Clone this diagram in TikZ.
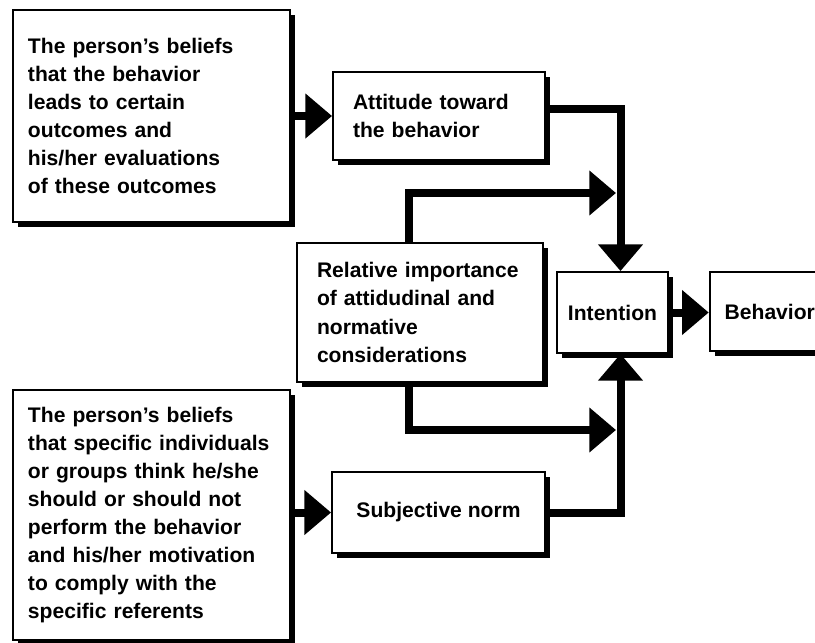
\documentclass[tikz,border=0pt]{standalone}
\usepackage{fontspec}
\setmainfont{Liberation Sans}
\usepackage{tikz}
\usetikzlibrary{arrows.meta,shadows}

\begin{document}
\begin{tikzpicture}[x=0.03cm,y=-0.03cm,
    box/.style={draw, line width=1.6pt, fill=white, align=left, inner ysep=0pt,
        font=\fontsize{18}{24}\selectfont\bfseries,
        drop shadow={shadow xshift=0.16cm, shadow yshift=-0.16cm, fill=black, opacity=1}},
    flow/.style={line width=0.24cm, -{Triangle[length=0.8cm,width=1.3cm]}}]
    \useasboundingbox (0,0) rectangle (815,642);
    % boxes
    \node[box, minimum width=8.31cm, minimum height=6.36cm, text width=7.41cm, inner xsep=0.45cm] (belief1) at (151.5,116)
        {The person's beliefs\\that the behavior\\leads to certain\\outcomes and\\his/her evaluations\\of these outcomes};
    \node[box, minimum width=8.31cm, minimum height=7.5cm, text width=7.41cm, inner xsep=0.45cm] (belief2) at (151.5,515)
        {The person's beliefs\\that specific individuals\\or groups think he/she\\should or should not\\perform the behavior\\and his/her motivation\\to comply with the\\specific referents};
    \node[box, minimum width=6.36cm, minimum height=2.64cm, text width=5.16cm, inner xsep=0.6cm] (attitude) at (439,116)
        {Attitude toward\\the behavior};
    \node[box, minimum width=7.38cm, minimum height=4.17cm, text width=6.18cm, inner xsep=0.6cm] (relative) at (420,312.5)
        {Relative importance\\of attidudinal and\\normative\\considerations};
    \node[box, minimum width=6.39cm, minimum height=2.43cm, align=center] (subjective) at (438.5,512.5)
        {Subjective norm};
    \node[box, minimum width=3.33cm, minimum height=2.43cm, align=center] (intention) at (612.5,312.5)
        {Intention};
    \node[box, minimum width=3.65cm, minimum height=2.37cm, text width=2.75cm, inner xsep=0.45cm] (behavior) at (770.5,311.5)
        {Behavior};
    % free ends beside the intention column
    \coordinate (upin) at (616,193);
    \coordinate (lowin) at (616,430);
    % connectors
    \draw[flow] (belief1.east |- attitude.west) -- (attitude.west);
    \draw[flow] (belief2.east |- subjective.west) -- (subjective.west);
    \draw[flow] ([yshift=0.2cm]attitude.east) -| ([xshift=0.24cm]intention.north);
    \draw[flow] (subjective.east) -| ([xshift=0.24cm]intention.south);
    \draw[flow] ([xshift=-0.33cm]relative.north) |- (upin);
    \draw[flow] ([xshift=-0.33cm]relative.south) |- (lowin);
    \draw[flow] (intention.east) -- (intention.east -| behavior.west);
\end{tikzpicture}
\end{document}
